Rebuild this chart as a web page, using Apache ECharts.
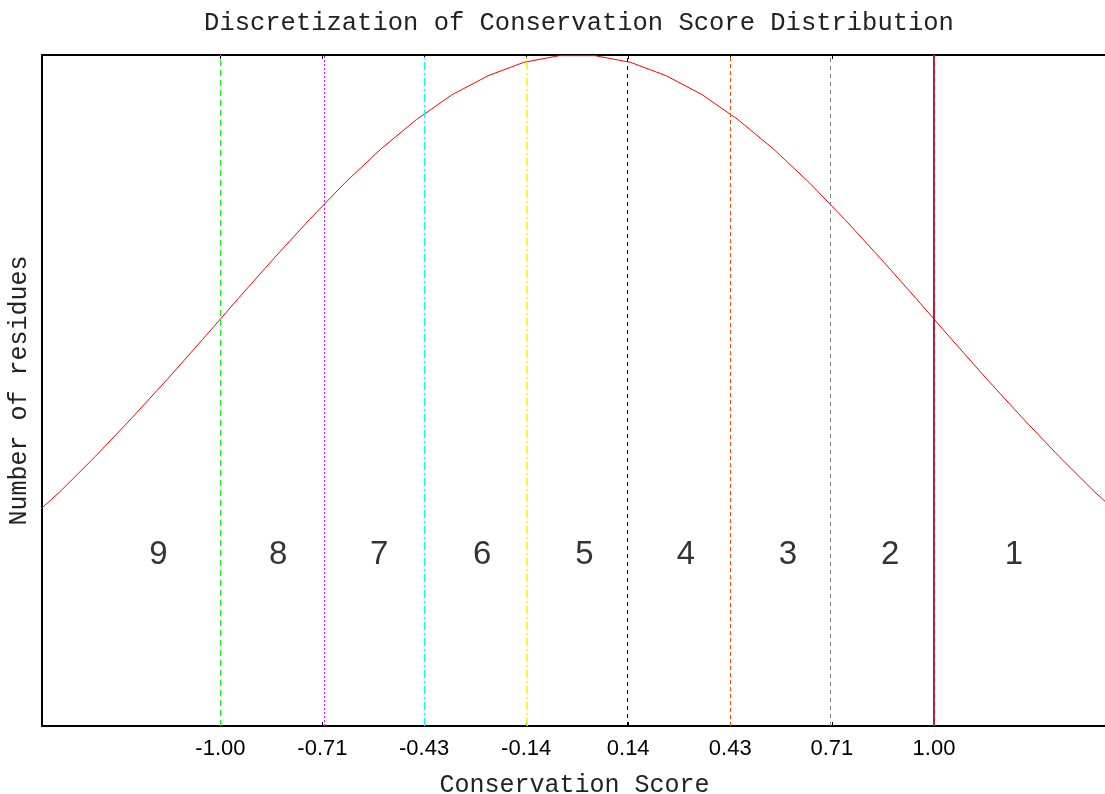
<!DOCTYPE html>
<html>
<head>
<meta charset="utf-8">
<script src="https://cdn.jsdelivr.net/npm/echarts@6/dist/echarts.min.js"></script>
<style>html,body{margin:0;padding:0;background:#fff}#c{width:1105px;height:794px}</style>
</head>
<body>
<div id="c"></div>
<script>
// Curve samples (score, relative count)
const scores = [-1.55,-1.45,-1.35,-1.25,-1.15,-1.05,-0.95,-0.85,-0.75,-0.65,-0.55,-0.45,-0.35,-0.25,-0.15,-0.05,
                0.05,0.15,0.25,0.35,0.45,0.55,0.65,0.75,0.85,0.95,1.05,1.15,1.25,1.35,1.45,1.55];
const counts = [0.301,0.349,0.402,0.458,0.516,0.576,0.637,0.697,0.755,0.810,0.860,0.904,0.941,0.969,0.989,0.999,
                0.999,0.989,0.969,0.941,0.904,0.860,0.810,0.755,0.697,0.637,0.576,0.516,0.458,0.402,0.349,0.301];
// Bin boundaries and tick labels
const boundaries = [-1.0, -0.714, -0.429, -0.143, 0.143, 0.429, 0.714, 1.0];
const tickLabels = ['-1.00','-0.71','-0.43','-0.14','0.14','0.43','0.71','1.00'];
// Grade labels and their positions
const grades = ['9','8','7','6','5','4','3','2','1'];
const gradePos = [-1.174,-0.838,-0.555,-0.266,0.020,0.305,0.591,0.877,1.224];
const gradeY = 0.255;

const lineStyles = [
  {color:'#00ff00', type:[6,4], width:1},
  {color:'#ff00ff', type:[2,2], width:1},
  {color:'#00ffff', type:[8,3,2,3], width:1.2},
  {color:'#f5f500', type:[8,3,2,3], width:1.6},
  {color:'#000000', type:[4,4], width:1},
  {color:'#ff4500', type:[4,3], width:1},
  {color:'#808080', type:[4,4], width:1},
  {color:'#ff0000', type:'solid', width:2}
];

const mono = '"Liberation Mono", "DejaVu Sans Mono", monospace';
const sans = '"Liberation Sans", Arial, sans-serif';
const chart = echarts.init(document.getElementById('c'));

const markData = boundaries.map((b,i)=>({xAxis:b, lineStyle:lineStyles[i]}));
markData.push({xAxis:1.0, lineStyle:{color:'#9030a0', type:[4,4], width:1}});

chart.setOption({
  animation:false,
  title:{text:'Discretization of Conservation Score Distribution', left:574, textAlign:'center', top:5,
         textStyle:{fontFamily:mono, fontSize:25.5, fontWeight:'normal', color:'#222'}},
  grid:{left:42, right:-2, top:55, bottom:68, outerBoundsMode:'none', containLabel:false},
  xAxis:[{
    type:'value', min:-1.5, max:1.485, position:'bottom',
    name:'Conservation Score', nameLocation:'middle', nameGap:47,
    nameTextStyle:{fontFamily:mono, fontSize:25, color:'#222'},
    axisLine:{show:true, onZero:false, lineStyle:{color:'#000', width:2}},
    axisTick:{show:true, inside:true, length:4, customValues:boundaries, lineStyle:{color:'#000'}},
    axisLabel:{show:true, customValues:boundaries, margin:12, fontFamily:sans, fontSize:22, color:'#000',
               formatter:(v)=>{ for (let i=0;i<boundaries.length;i++){ if (Math.abs(boundaries[i]-v)<1e-6) return tickLabels[i]; } return ''; }},
    splitLine:{show:false}
  },{
    type:'value', min:-1.5, max:1.485, position:'top',
    axisLine:{show:true, onZero:false, lineStyle:{color:'#000', width:2}},
    axisTick:{show:true, inside:true, length:4, customValues:boundaries, lineStyle:{color:'#000'}},
    axisLabel:{show:false}, splitLine:{show:false}
  }],
  yAxis:{
    type:'value', min:0, max:1, position:'left',
    name:'Number of residues', nameLocation:'middle', nameGap:10, nameRotate:90,
    nameTextStyle:{fontFamily:mono, fontSize:25, color:'#222'},
    axisLine:{show:true, onZero:false, lineStyle:{color:'#000', width:2}},
    axisTick:{show:false}, axisLabel:{show:false}, splitLine:{show:false}
  },
  series:[{
    type:'line', data:scores.map((s,i)=>[s,counts[i]]), showSymbol:false, symbol:'none',
    lineStyle:{color:'#ff0000', width:1}, clip:true, z:3,
    markLine:{silent:true, symbol:['none','none'], label:{show:false}, data:markData, animation:false}
  },{
    type:'scatter', data:gradePos.map((p,i)=>[p,gradeY,grades[i]]), symbolSize:0,
    label:{show:true, position:'inside', formatter:(p)=>p.data[2],
           fontFamily:sans, fontSize:33, color:'#000'}
  }]
});
</script>
</body>
</html>
